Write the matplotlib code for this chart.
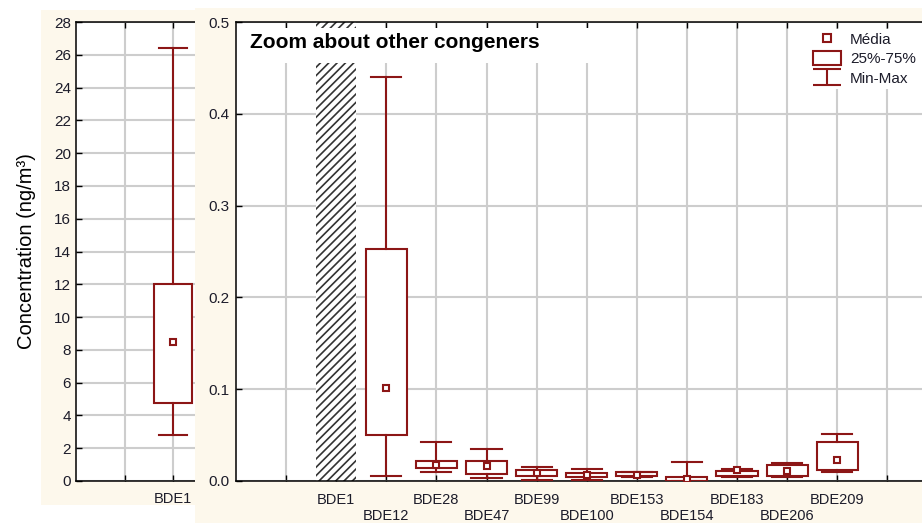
import numpy as np
import matplotlib.pyplot as plt
from matplotlib.patches import Rectangle, Patch
from matplotlib.lines import Line2D
from matplotlib.path import Path

plt.rcParams['font.family'] = ['Liberation Sans', 'DejaVu Sans']
plt.rcParams['hatch.linewidth'] = 1.2

# ---- data (ng/m3) ----
# BDE1, full scale panel
bde1_mean, bde1_q1, bde1_q3, bde1_min, bde1_max = 8.5, 4.75, 12.0, 2.8, 26.4

# all congeners on the zoom panel (BDE1 is off scale there)
congeners = ['BDE1', 'BDE12', 'BDE28', 'BDE47', 'BDE99', 'BDE100',
             'BDE153', 'BDE154', 'BDE183', 'BDE206', 'BDE209']
zoom_names = congeners[1:]
zoom_mean = [0.101, 0.017, 0.016, 0.009, 0.006, 0.007, 0.002, 0.012, 0.011, 0.023]
zoom_q1   = [0.050, 0.014, 0.008, 0.005, 0.004, 0.005, 0.000, 0.005, 0.005, 0.012]
zoom_q3   = [0.253, 0.022, 0.022, 0.012, 0.009, 0.010, 0.004, 0.011, 0.017, 0.042]
zoom_min  = [0.005, 0.010, 0.003, 0.001, 0.001, 0.004, 0.000, 0.004, 0.004, 0.010]
zoom_max  = [0.440, 0.042, 0.035, 0.015, 0.013, 0.010, 0.021, 0.013, 0.020, 0.051]

RED = '#8c1616'
CREAM = '#fdf8ec'
GRID = '#cdcdcd'
TXT = '#1c1c2a'
W, H = 922, 523


def px(x0, y0, x1, y1):
    # pixel box (top-left origin) -> figure fraction rect
    return [x0 / W, 1 - y1 / H, (x1 - x0) / W, (y1 - y0) / H]


def box_stats(names, mean, q1, q3, lo, hi):
    return [dict(label=n, med=m, mean=m, q1=a, q3=b, whislo=l, whishi=h)
            for n, m, a, b, l, h in zip(names, mean, q1, q3, lo, hi)]


def style_axes(ax):
    ax.set_facecolor('white')
    ax.set_axisbelow(True)
    for s in ax.spines.values():
        s.set_linewidth(1.1)
        s.set_color('black')
    ax.tick_params(which='both', direction='in', top=True, bottom=True,
                   left=True, right=False, length=4, width=1,
                   labelsize=11, labelcolor=TXT)
    ax.tick_params(axis='x', which='both', labelsize=10.5)


box_kw = dict(showmeans=True, showfliers=False, patch_artist=True,
              manage_ticks=False, zorder=3,
              boxprops=dict(facecolor='white', edgecolor=RED, linewidth=1.5),
              whiskerprops=dict(color=RED, linewidth=1.5),
              capprops=dict(color=RED, linewidth=1.5),
              medianprops=dict(linewidth=0),
              meanprops=dict(marker='s', markersize=5, markerfacecolor='white',
                             markeredgecolor=RED, markeredgewidth=1.5))

fig = plt.figure(figsize=(W / 100, H / 100), dpi=100)

# ---- left panel: BDE1 ----
fig.add_artist(Rectangle((41 / W, 1 - 505 / H), 154 / W, 495 / H,
                         transform=fig.transFigure, facecolor=CREAM,
                         edgecolor='none', zorder=-1))
axl = fig.add_axes(px(76, 22, 221.5, 481))
style_axes(axl)
axl.bxp(box_stats(['BDE1'], [bde1_mean], [bde1_q1], [bde1_q3],
                  [bde1_min], [bde1_max]),
        positions=[1], widths=0.78, capwidths=0.58, **box_kw)
axl.set_xlim(-1, 2)
axl.set_ylim(0, 28)
axl.set_yticks(np.arange(0, 29, 2))
axl.set_xticks([0, 1], ['', 'BDE1'])
axl.tick_params(axis='y', pad=3.5)
axl.tick_params(axis='x', pad=8)
axl.grid(True, color=GRID, linewidth=1.5)
axl.set_ylabel('Concentration (ng/m³)', fontsize=14.5, color='black')
axl.yaxis.set_label_coords((36 - 76) / 145.5, 0.5)

# ---- right panel: zoom on other congeners ----
fig.add_artist(Rectangle((195 / W, 0), (W - 195) / W, 515 / H,
                         transform=fig.transFigure, facecolor=CREAM,
                         edgecolor='none', zorder=1))
x_right = 945
axr = fig.add_axes(px(236, 22, x_right, 481))
axr.set_zorder(2)
style_axes(axr)
ymax = 0.5
pos = np.arange(1, len(congeners) + 1)

# BDE1 is far above the zoom scale -> hatched column
axr.bar(pos[0], ymax, width=0.8, color='white', hatch='////',
        edgecolor='#333333', linewidth=0, zorder=1)
axr.bxp(box_stats(zoom_names, zoom_mean, zoom_q1, zoom_q3, zoom_min, zoom_max),
        positions=pos[1:], widths=0.82, capwidths=0.6, **box_kw)

axr.set_xlim(-1, -1 + (x_right - 236) / 50.1)
axr.set_ylim(0, ymax)
axr.set_yticks(np.arange(0, 0.51, 0.1))
axr.yaxis.set_major_formatter('{x:.1f}')
upper = [0] + list(pos[::2]) + [pos[-1] + 1]
upper_lab = [''] + congeners[::2] + ['']
axr.set_xticks(upper, upper_lab)
axr.set_xticks(pos[1::2], congeners[1::2], minor=True)
axr.tick_params(axis='x', which='major', pad=8.5)
axr.tick_params(axis='x', which='minor', pad=20.5)
axr.tick_params(axis='y', pad=5)
axr.grid(True, which='both', axis='x', color=GRID, linewidth=1.5)
axr.grid(True, which='major', axis='y', color=GRID, linewidth=1.5)

aw = x_right - 236
axr.add_patch(Rectangle((1.5 / aw, (481 - 63) / 459), (605 - 237) / aw, 35 / 459,
                        transform=axr.transAxes, facecolor='white',
                        edgecolor='none', zorder=1.8))
axr.text((250 - 236) / aw, (481 - 48) / 459, 'Zoom about other congeners',
         transform=axr.transAxes, fontsize=15, fontweight='bold',
         va='baseline', ha='left', color='black', zorder=4)

# legend
ibeam = Path([(-1, 0.57), (1, 0.57), (0, 0.57), (0, -0.57), (-1, -0.57), (1, -0.57)],
             [Path.MOVETO, Path.LINETO, Path.MOVETO, Path.LINETO, Path.MOVETO, Path.LINETO])
handles = [
    Line2D([], [], ls='none', marker='s', markersize=5.5, markerfacecolor='white',
           markeredgecolor=RED, markeredgewidth=1.5),
    Patch(facecolor='white', edgecolor=RED, linewidth=1.5),
    Line2D([], [], ls='none', marker=ibeam, markersize=20, markerfacecolor='none',
           markeredgecolor=RED, markeredgewidth=1.5),
]
leg = axr.legend(handles, ['Média', '25%-75%', 'Min-Max'], loc='upper left',
                 bbox_to_anchor=(810 / W, 1 - 28.5 / H),
                 bbox_transform=fig.transFigure, borderaxespad=0, borderpad=0.2,
                 fontsize=11, labelcolor=TXT, handlelength=1.83, handleheight=1.0,
                 handletextpad=0.6, labelspacing=0.3, numpoints=1,
                 frameon=True, fancybox=False, framealpha=1)
leg.get_frame().set_facecolor('white')
leg.get_frame().set_edgecolor('none')

fig.savefig('out.png', dpi=100)
